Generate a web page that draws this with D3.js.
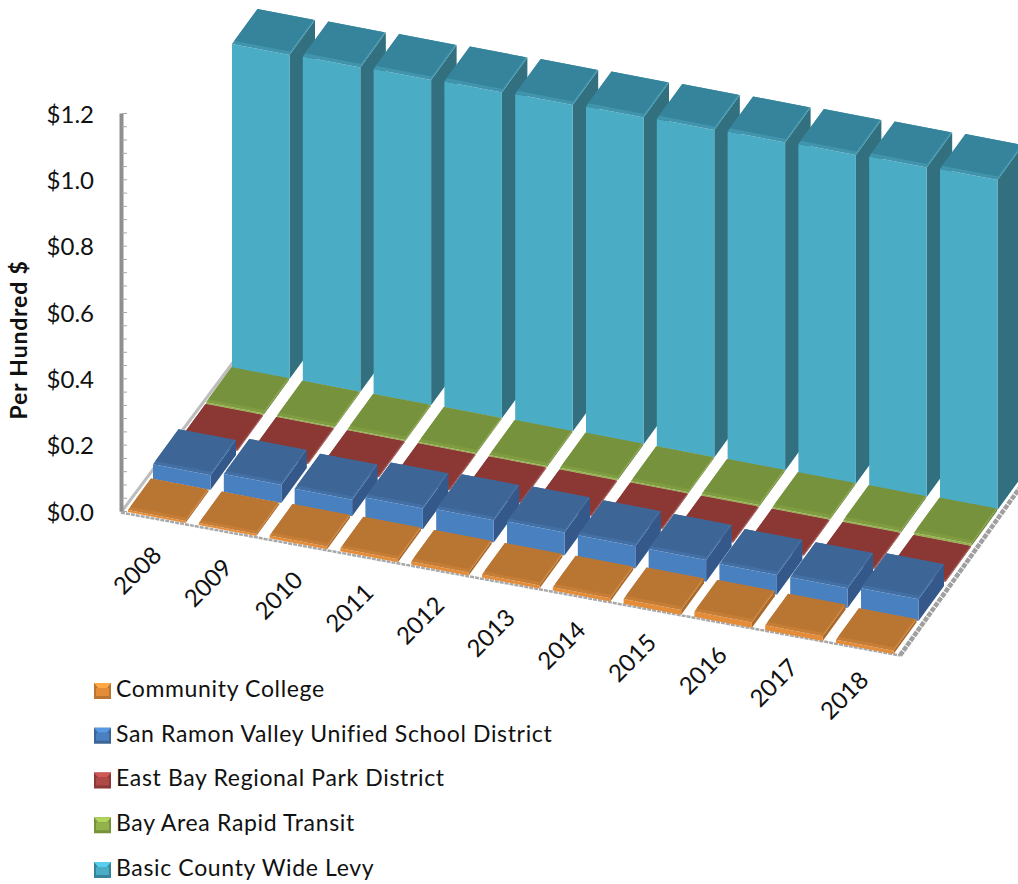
<!DOCTYPE html>
<html><head><meta charset="utf-8">
<script src="https://cdn.jsdelivr.net/npm/d3@7/dist/d3.min.js"></script>
<style>html,body{margin:0;padding:0;background:#fff}svg{display:block}text{font-family:Lato,"Open Sans",sans-serif;fill:#111}</style>
</head><body><svg id="c" width="1018" height="884"></svg>
<script>
const years=["2008","2009","2010","2011","2012","2013","2014","2015","2016","2017","2018"];
const seriesNames=["Community College","San Ramon Valley Unified School District","East Bay Regional Park District","Bay Area Rapid Transit","Basic County Wide Levy"];
const communityCollege=[0.006,0.006,0.008,0.009,0.009,0.009,0.010,0.014,0.016,0.014,0.010];
const sanRamon=[0.045,0.055,0.050,0.063,0.067,0.069,0.067,0.065,0.059,0.059,0.065];
const eastBay=[0.003,0.003,0.003,0.003,0.003,0.003,0.003,0.003,0.003,0.003,0.003];
const bart=[0.005,0.004,0.004,0.004,0.004,0.005,0.004,0.005,0.005,0.005,0.007];
const levy=[1,1,1,1,1,1,1,1,1,1,1];
const seriesValues=[communityCollege,sanRamon,eastBay,bart,levy];
const yTicks=[0,0.2,0.4,0.6,0.8,1.0,1.2];
const frontCol=["#E58C38","#4A80C0","#B04A48","#93B24C","#4BACC6"];
const topCol=["#B97531","#3C6596","#8B3836","#76923C","#36849B"];
const sideCol=["#A9692B","#34598A","#7C302E","#68823A","#31707F"];
const bevelCol=["#C67D35","#4270A6","#94403D","#7F9C40","#3F95AD"];
const depthShare=[0.9,1,1,1,1];

const svg=d3.select("#c");
const defs=svg.append("defs");
defs.append("filter").attr("id","soft").attr("x","-5%").attr("y","-5%").attr("width","110%").attr("height","110%")
 .append("feGaussianBlur").attr("stdDeviation",0.6);

// oblique projection built from scales
const catX=d3.scalePoint().domain(years).range([128,836]);
const catY=d3.scalePoint().domain(years).range([512,643]);
const serX=d3.scaleOrdinal().domain(seriesNames).range([0,25,52,78,104]);
const serY=d3.scaleOrdinal().domain(seriesNames).range([0,-33,-72,-108,-144]);
const yAxisScale=d3.scaleLinear().domain([0,1.2]).range([511,113]);
const hScale=d3.scaleLinear().domain([0,1]).range([0,1]);
const barW=[57.5,11], barD=[25.5,-35];
const unit=(yr,s)=>(331-seriesNames.indexOf(s)*1.75+years.indexOf(yr)*0.6);
function pt(yr,s,u,d,v){
  return [catX(yr)+serX(s)+u*barW[0]+d*barD[0], catY(yr)+serY(s)+u*barW[1]+d*barD[1]-hScale(v)*unit(yr,s)];
}
const poly=(g,pts,fill)=>g.append("polygon").attr("points",pts.map(p=>p.join(",")).join(" ")).attr("fill",fill);

const chart=svg.append("g").attr("filter","url(#soft)");

// floor edges
const fl=[catX("2008")-7,catY("2008")+0.5], fr=[catX("2018")+64,catY("2018")+12.5];
const bl=[fl[0]+112,fl[1]-150], br=[fr[0]+125,fr[1]-175];
const edge=(a,b,w,c,dash)=>chart.append("line").attr("x1",a[0]).attr("y1",a[1]).attr("x2",b[0]).attr("y2",b[1])
  .attr("stroke",c).attr("stroke-width",w).attr("stroke-dasharray",dash||null);
edge(fl,bl,3,"#bdbdbd");
edge(fl,fr,2.5,"#a8a8a8","4 1");
edge(fr,br,4.5,"#a0a0a0","5 1");

// axis line, minor ticks, labels through d3 axes
const minor=d3.range(0,31).map(i=>i*0.04);
const axG=svg.append("g").attr("transform","translate(122,0)");
axG.call(d3.axisRight(yAxisScale).tickValues(minor).tickSize(5).tickSizeOuter(0).tickFormat(""));
axG.select(".domain").attr("stroke","#8f8f8f").attr("stroke-width",4).attr("transform","translate(-1,0)");
axG.selectAll(".tick line").attr("stroke","#a6a6a6").attr("stroke-width",1);
const lab=svg.append("g").attr("transform","translate(103,1.5)");
lab.call(d3.axisLeft(yAxisScale).tickValues(yTicks).tickSize(0).tickPadding(9).tickFormat(d=>"$"+d.toFixed(1)));
lab.select(".domain").remove();
lab.selectAll("text").style("font-size","24px").style("font-family","Lato,sans-serif").attr("fill","#111");

// bars, painter order: back series first, left to right
for(let si=seriesNames.length-1;si>=0;si--){
  const s=seriesNames[si], D=depthShare[si];
  years.forEach((yr,yi)=>{
    const v=seriesValues[si][yi];
    const g=chart.append("g");
    const P=(u,d,val)=>pt(yr,s,u,d,val);
    poly(g,[P(1,0,0),P(1,D,0),P(1,D,v),P(1,0,v)],sideCol[si]);
    poly(g,[P(0,0,0),P(1,0,0),P(1,0,v),P(0,0,v)],frontCol[si]);
    poly(g,[P(0,0,v),P(1,0,v),P(1,D,v),P(0,D,v)],bevelCol[si]);
    // inner top panel, leaving bevel bands on the front and right edges
    poly(g,[P(0,0.09,v),P(0.97,0.09,v),P(0.97,D,v),P(0,D,v)],topCol[si]);
  });
}

// category labels
const labX=d3.scalePoint().domain(years).range([139,846]);
const labY=d3.scalePoint().domain(years).range([572,697]);
svg.append("g").selectAll("text").data(years).join("text")
  .attr("transform",d=>`translate(${labX(d)},${labY(d)}) rotate(-45)`)
  .attr("text-anchor","middle").attr("dominant-baseline","middle").style("font-size","24px").text(d=>d);

// axis title
svg.append("text").attr("transform","translate(27,340) rotate(-90)").attr("text-anchor","middle")
  .style("font-size","23px").style("font-weight","700").style("letter-spacing","0.8px").text("Per Hundred $");

// legend
const legY=d3.scalePoint().domain(seriesNames).range([691,870]);
const leg=svg.append("g").selectAll("g").data(seriesNames).join("g").attr("transform",d=>`translate(0,${legY(d)})`);
leg.append("rect").attr("x",94).attr("y",-8).attr("width",17).attr("height",16).attr("fill",(d,i)=>topCol[i]);
leg.append("polygon").attr("points","94,-8 111,-8 107,-3 98,-3").attr("fill",(d,i)=>d3.color(frontCol[i]).brighter(0.5));
leg.append("rect").attr("x",96).attr("y",-3).attr("width",13).attr("height",8).attr("fill",(d,i)=>frontCol[i]);
leg.append("text").attr("x",116).attr("y",0).attr("dominant-baseline","middle").style("font-size","23px").style("letter-spacing","0.65px").text(d=>d);
</script></body></html>
